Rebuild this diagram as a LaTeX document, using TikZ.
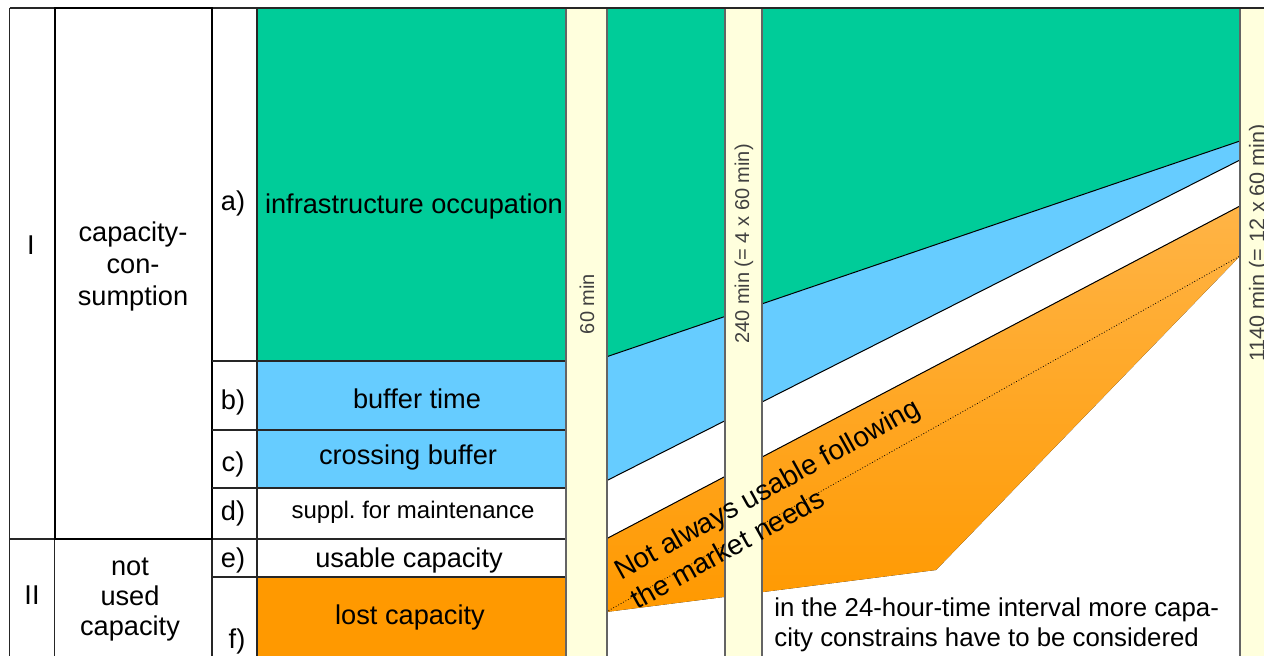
\documentclass[tikz,border=0pt]{standalone}
\usepackage{fontspec}
\setmainfont{Liberation Sans}
\frenchspacing
\usetikzlibrary{positioning}
\definecolor{occgreen}{RGB}{0,204,153}
\definecolor{bufblue}{RGB}{102,204,255}
\definecolor{lostorange}{RGB}{255,153,0}
\definecolor{lightorange}{RGB}{255,180,70}
\definecolor{barcream}{RGB}{255,255,221}
\definecolor{bargray}{RGB}{100,100,100}

\begin{document}
\begin{tikzpicture}[x=0.5pt,y=-0.5pt]
  \tikzset{
    cell/.style={draw=black!85, line width=0.6pt},
    timebar/.style={draw=bargray, fill=barcream, line width=0.6pt},
    lbl/.style={font=\fontsize{13.6}{16}\selectfont, inner sep=0pt, align=center},
    smalllbl/.style={font=\fontsize{12}{14}\selectfont, inner sep=0pt},
    barlbl/.style={font=\fontsize{10}{12}\selectfont, text=black!75, rotate=90, inner sep=0pt},
    bandline/.style={black, line width=0.5pt}
  }
  \useasboundingbox (0,0) rectangle (1264,656);

  % stack of the 60 min window
  \filldraw[cell, fill=occgreen] (257,8) rectangle (566,361);
  \filldraw[cell, fill=bufblue] (257,361) rectangle (566,430);
  \filldraw[cell, fill=bufblue] (257,430) rectangle (566,488);
  \draw[cell] (257,488) rectangle (566,539);
  \draw[cell] (257,539) rectangle (566,577);
  \filldraw[cell, fill=lostorange] (257,577) rectangle (566,660);

  % bands over the longer windows
  \fill[occgreen] (606,8) -- (1240,8) -- (1240,141) -- (606,357) -- cycle;
  \fill[bufblue] (606,357) -- (1240,141) -- (1240,160) -- (606,481) -- cycle;
  \fill[top color=lightorange, bottom color=lostorange]
    (606,539) -- (1240,206) -- (1240,256) -- (936,570) -- (606,612) -- cycle;
  \draw[bandline] (606,357) -- (1240,141);
  \draw[bandline] (606,481) -- (1240,160);
  \draw[bandline] (606,539) -- (1240,206);
  \draw[black, line width=0.4pt, densely dotted] (606,612) -- (1240,256);

  % time bars
  \filldraw[timebar] (566,8) rectangle (607,660);
  \filldraw[timebar] (725,8) rectangle (762,660);
  \filldraw[timebar] (1240,8) rectangle (1290,660);

  % left columns
  \draw[cell] (9.5,8) -- (1264,8);
  \draw[cell] (9.5,8) -- (9.5,660);
  \draw[cell] (54.5,8) -- (54.5,660);
  \draw[cell] (212,8) -- (212,660);
  \draw[cell] (9.5,539) -- (257,539);
  \draw[black, line width=1.1pt] (55,8) rectangle (212,539);
  \foreach \yy in {361,430,488,577}
    \draw[cell] (212,\yy) -- (257,\yy);

  \node[lbl] (groupI) at (31,245) {I};
  \node[lbl] (groupII) at (32,595) {II};
  \node[lbl] (consumption) at (133,266) {capacity-\\con-\\sumption};
  \node[lbl, font=\fontsize{13.6}{15}\selectfont] (notused) at (130,600) {not\\used\\capacity};

  \node[lbl] (la) at (233,203) {a)};
  \node[lbl] (lb) at (233,402) {b)};
  \node[lbl] (lc) at (233,464) {c)};
  \node[lbl] (ld) at (233,513) {d)};
  \node[lbl] (le) at (233,560) {e)};
  \node[lbl] (lf) at (237,641) {f)};

  \node[lbl] (occupation) at (414,206) {infrastructure occupation};
  \node[lbl] (buffer) at (417,399) {buffer time};
  \node[lbl] (crossing) at (408,457) {crossing buffer};
  \node[smalllbl] (maint) at (413,512) {suppl. for maintenance};
  \node[lbl] (usable) at (409,560) {usable capacity};
  \node[lbl] (lost) at (410,617) {lost capacity};

  \node[barlbl] (t60) at (587,304) {60 min};
  \node[barlbl] (t240) at (744,244) {240 min (= 4 x 60 min)};
  \node[barlbl, font=\fontsize{10.8}{12}\selectfont] (t1140) at (1259,243) {1140 min (= 12 x 60 min)};

  \node[lbl, font=\fontsize{14}{16.8}\selectfont, align=left, rotate=29] (market) at (775,503)
    {Not always usable following\\the market needs};
  \node[inner sep=0pt, align=left, anchor=north west, font=\fontsize{12.9}{15}\selectfont] (note) at (774,597)
    {in the 24-hour-time interval more capa-\\city constrains have to be considered};
\end{tikzpicture}
\end{document}
